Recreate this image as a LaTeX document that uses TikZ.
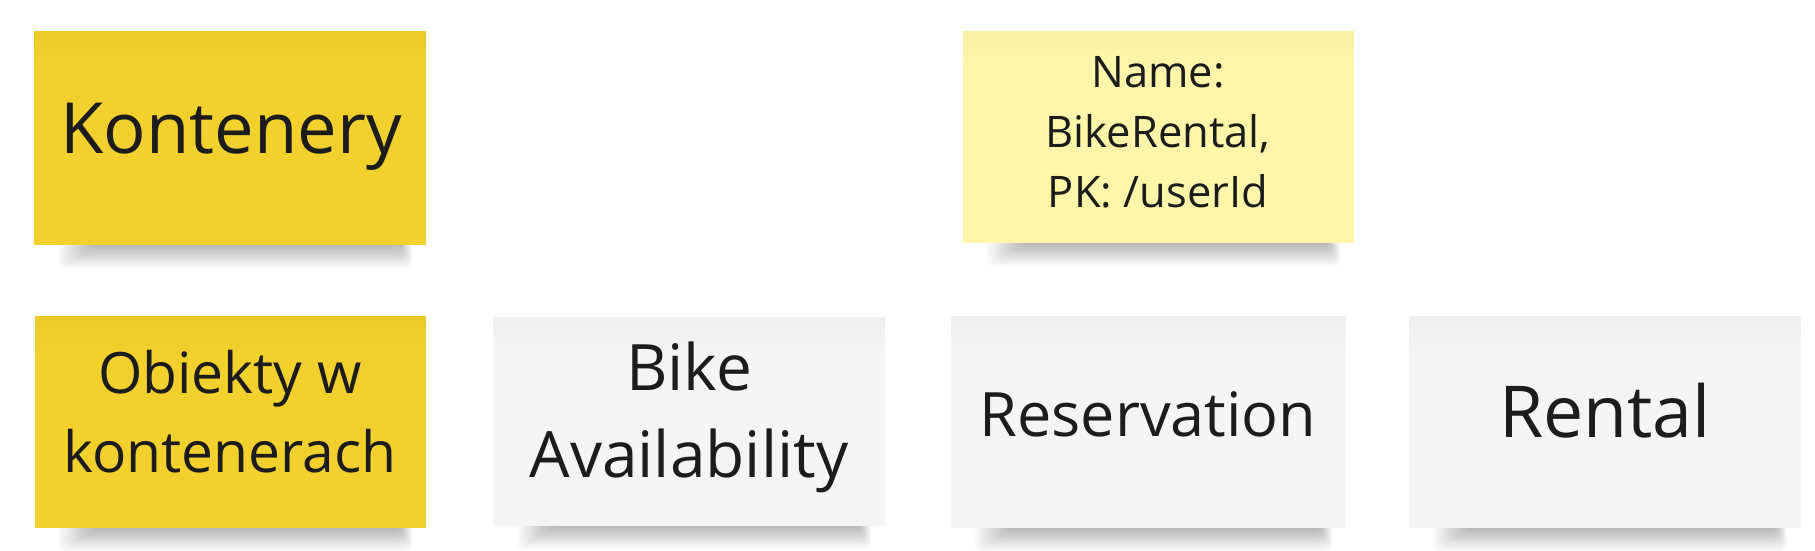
\documentclass[tikz,border=0pt]{standalone}
\usepackage{fontspec}
\setmainfont{Open Sans}
\usetikzlibrary{calc}
\definecolor{ystrong}{HTML}{F2D12F}
\definecolor{ylight}{HTML}{FFF6A9}
\definecolor{ngray}{HTML}{F4F5F7}
\definecolor{ink}{HTML}{1C1C1C}
\tikzset{
  note/.style={rectangle, inner sep=0pt, draw=none},
  notetext/.style={text=ink, align=center, inner sep=0pt},
}
% \stickynote{name}{x1}{y1}{x2}{y2}{colour}
\newcommand{\stickynote}[6]{%
  \path (#2,#3) coordinate (#1-a) (#4,#5) coordinate (#1-b);
  \foreach \k in {1,...,12}{
    \fill[black, opacity=0.022, rounded corners=6pt]
      ($(#1-a|-#1-b)+(60-\k*3,-3)$) rectangle ($(#1-b)+(-26+\k*1.0,\k*1.9)$);
  }
  \node[note, fill=#6, minimum width={(#4-#2)*1pt}, minimum height={(#5-#3)*1pt}]
    (#1) at ({(#2+#4)/2},{(#3+#5)/2}) {};
  \foreach \k in {1,...,6}{
    \fill[black, opacity=0.004] (#1.north west) rectangle ($(#1.north east)+(0,\k*6)$);
  }
}
\begin{document}
\begin{tikzpicture}[x=1pt,y=-1pt]
\useasboundingbox (0,0) rectangle (1815,550);
\fill[white] (0,0) rectangle (1815,550);

\stickynote{kont}{34}{31}{426}{245}{ystrong}
\stickynote{name}{963}{31}{1354}{243}{ylight}
\stickynote{obj}{35}{316}{426}{528}{ystrong}
\stickynote{bike}{493}{317}{885}{526}{ngray}
\stickynote{res}{951}{316}{1346}{528}{ngray}
\stickynote{rent}{1409}{316}{1801}{528}{ngray}

\node[notetext, anchor=base, font=\fontsize{70.6}{80}\selectfont] (kontT) at (231,153) {Kontenery};
\node[notetext, font=\fontsize{43.5}{60}\selectfont] (nameT) at (1158,132) {Name:\\BikeRental,\\PK: /userId};
\node[notetext, font=\fontsize{57}{79}\selectfont] (objT) at (230,412) {Obiekty w\\kontenerach};
\node[notetext, font=\fontsize{64}{87}\selectfont] (bikeT) at (689,417) {Bike\\Availability};
\node[notetext, anchor=base, font=\fontsize{61.2}{72}\selectfont] (resT) at (1148,436) {Reservation};
\node[notetext, anchor=base, font=\fontsize{71.6}{80}\selectfont] (rentT) at (1605,437) {Rental};
\end{tikzpicture}
\end{document}
